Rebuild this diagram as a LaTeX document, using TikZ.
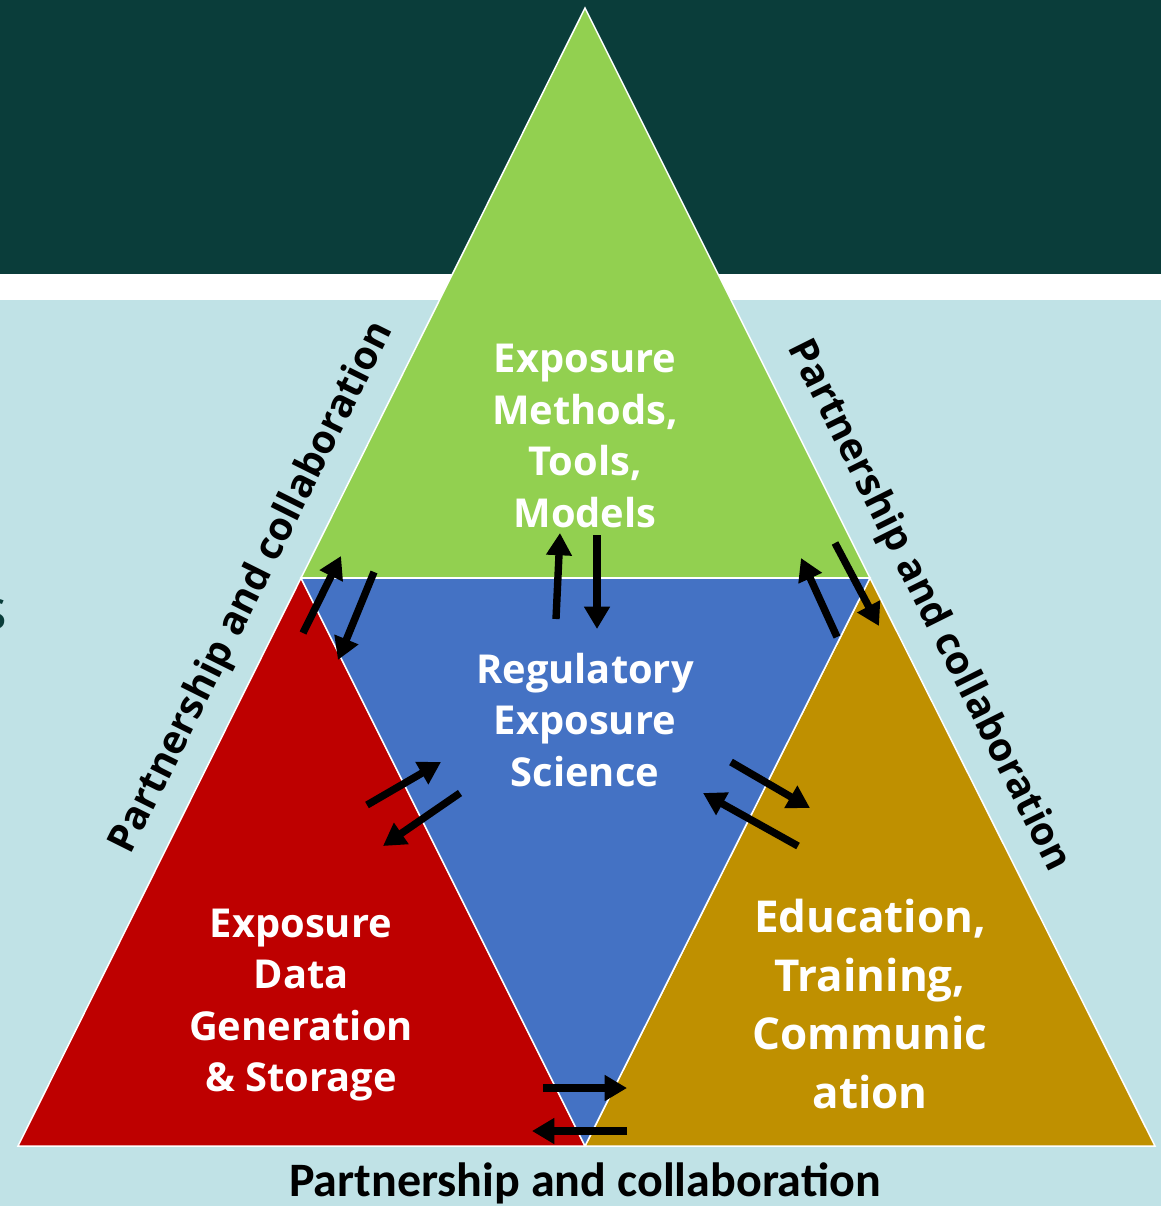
\documentclass[tikz,border=0pt]{standalone}
\usepackage{fontspec}
\setmainfont{Open Sans}
\newfontfamily\calibri{Carlito}
\usetikzlibrary{arrows.meta}

\definecolor{deepteal}{HTML}{0A3D3A}
\definecolor{paleblue}{HTML}{C0E2E6}
\definecolor{leafgreen}{HTML}{92D050}
\definecolor{midblue}{HTML}{4472C4}
\definecolor{darkred}{HTML}{BE0000}
\definecolor{ochre}{HTML}{BF9000}

\tikzset{
  tri/.style={draw=white, line width=1.3pt, line join=miter},
  tritext/.style={text=white, align=center, font=\bfseries\fontsize{34}{44}\selectfont},
  partner/.style={font=\bfseries\fontsize{33.5}{36}\selectfont, inner sep=0pt},
  flow/.style={line width=6.3pt, -{Triangle[length=19pt,width=21pt]}},
}

\begin{document}
\begin{tikzpicture}[x=0.03cm, y=-0.03cm]
  \useasboundingbox (0,0) rectangle (1161,1206);

  % background bands
  \fill[paleblue] (0,0) rectangle (1161,1206);
  \fill[deepteal] (0,0) rectangle (1161,274);
  \fill[white] (0,274) rectangle (1161,300);
  \node[text=deepteal, font=\fontsize{48}{50}\selectfont, inner sep=0pt, anchor=east] (sfrag) at (8,614) {s};

  % corners of the big triangle
  \coordinate (top) at (585,8);
  \coordinate (ml) at (301,578);
  \coordinate (mr) at (870,578);
  \coordinate (bl) at (18,1146);
  \coordinate (bm) at (585,1146);
  \coordinate (br) at (1155,1146);

  \draw[tri, fill=darkred] (ml) -- (bl) -- (bm) -- cycle;
  \draw[tri, fill=ochre] (mr) -- (bm) -- (br) -- cycle;
  \draw[tri, fill=midblue] (ml) -- (mr) -- (bm) -- cycle;
  \draw[tri, fill=leafgreen] (top) -- (ml) -- (mr) -- cycle;

  \node[tritext] (methods) at (585,436) {Exposure\\Methods,\\Tools,\\Models};
  \node[tritext] (regulatory) at (585,720) {Regulatory\\Exposure\\Science};
  \node[tritext] (datagen) at (301,1005) {Exposure\\Data\\Generation\\\& Storage};
  \node[tritext, font=\bfseries\fontsize{37.5}{50}\selectfont] (education) at (870,1004) {Education,\\Training,\\Communic\\ation};

  \node[partner, rotate=63.5] (leftlabel) at (253,588) {Partnership and collaboration};
  \node[partner, rotate=-63.5] (rightlabel) at (928,606) {Partnership and collaboration};
  \node[font=\calibri\bfseries\fontsize{41}{44}\selectfont, inner sep=0pt] (bottomlabel) at (585,1183) {Partnership and collaboration};

  % arrow ends
  \coordinate (gr1) at (303,633);  \coordinate (gr2) at (341,556);
  \coordinate (gr3) at (374,572);  \coordinate (gr4) at (338,660);
  \coordinate (gb1) at (556,619);  \coordinate (gb2) at (560,533);
  \coordinate (gb3) at (597,535);  \coordinate (gb4) at (597,629);
  \coordinate (go1) at (837,637);  \coordinate (go2) at (801,558);
  \coordinate (go3) at (835,543);  \coordinate (go4) at (879,626);
  \coordinate (rb1) at (367,805);  \coordinate (rb2) at (441,762);
  \coordinate (rb3) at (460,793);  \coordinate (rb4) at (383,846);
  \coordinate (bo1) at (731,762);  \coordinate (bo2) at (810,808);
  \coordinate (bo3) at (798,846);  \coordinate (bo4) at (703,793);
  \coordinate (ro1) at (543,1088); \coordinate (ro2) at (627,1088);
  \coordinate (ro3) at (627,1131); \coordinate (ro4) at (532,1131);

  \draw[flow] (gr1) -- (gr2);  \draw[flow] (gr3) -- (gr4);
  \draw[flow] (gb1) -- (gb2);  \draw[flow] (gb3) -- (gb4);
  \draw[flow] (go1) -- (go2);  \draw[flow] (go3) -- (go4);
  \draw[flow] (rb1) -- (rb2);  \draw[flow] (rb3) -- (rb4);
  \draw[flow] (bo1) -- (bo2);  \draw[flow] (bo3) -- (bo4);
  \draw[flow] (ro1) -- (ro2);  \draw[flow] (ro3) -- (ro4);
\end{tikzpicture}
\end{document}
